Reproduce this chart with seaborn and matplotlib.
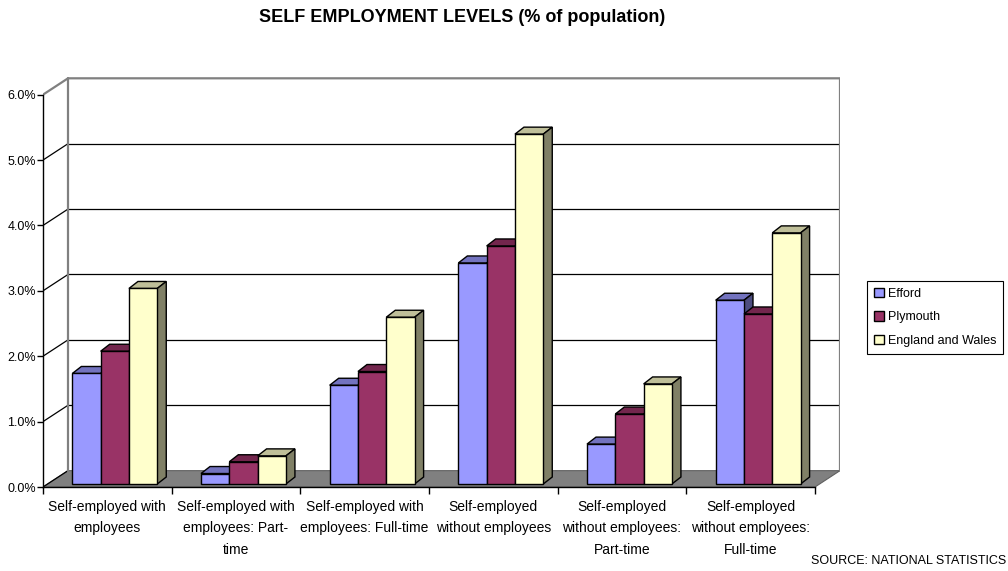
import numpy as np
import pandas as pd
import matplotlib
matplotlib.use("Agg")
import matplotlib.pyplot as plt
from matplotlib.patches import Polygon, Patch
import seaborn as sns

# ---- data -------------------------------------------------------------
categories = [
    "Self-employed with employees",
    "Self-employed with employees: Part-time",
    "Self-employed with employees: Full-time",
    "Self-employed without employees",
    "Self-employed without employees: Part-time",
    "Self-employed without employees: Full-time",
]
tick_labels = [
    "Self-employed with\nemployees",
    "Self-employed with\nemployees: Part-\ntime",
    "Self-employed with\nemployees: Full-time",
    "Self-employed\nwithout employees",
    "Self-employed\nwithout employees:\nPart-time",
    "Self-employed\nwithout employees:\nFull-time",
]
series = ["Efford", "Plymouth", "England and Wales"]
efford = [1.69, 0.16, 1.51, 3.38, 0.61, 2.81]
plymouth = [2.03, 0.34, 1.72, 3.64, 1.07, 2.60]
england_wales = [2.99, 0.43, 2.55, 5.35, 1.53, 3.84]
y_ticks = [0, 1, 2, 3, 4, 5, 6]

front_colors = ["#9999FF", "#993366", "#FFFFCC"]
top_colors = ["#7373BF", "#73264D", "#BFBF99"]
side_colors = ["#4D4D80", "#4D1A33", "#808066"]

df = pd.DataFrame({
    "category": categories * 3,
    "series": np.repeat(series, len(categories)),
    "value": efford + plymouth + england_wales,
})

# ---- figure / axes ----------------------------------------------------
sns.set_style("white")
plt.rcParams["font.family"] = ["Liberation Sans", "DejaVu Sans"]
plt.rcParams["text.color"] = "black"
plt.rcParams["xtick.color"] = "black"
plt.rcParams["ytick.color"] = "black"
plt.rcParams["axes.labelcolor"] = "black"

W, H = 1008, 571
fig = plt.figure(figsize=(W / 100, H / 100), dpi=100)
ax = fig.add_axes([43 / W, (H - 487) / H, 797 / W, 410 / H])
ax.set_facecolor("none")

DX = 0.1943          # depth offset of the back wall (category units)
DY = 0.25            # depth offset of the back wall (percent units)
XMIN, XMAX = -0.5, len(categories) - 0.5

sns.barplot(data=df, x="category", y="value", hue="series",
            order=categories, hue_order=series, palette=front_colors,
            saturation=1, width=0.66, errorbar=None, legend=False,
            edgecolor="black", linewidth=1.0, ax=ax)

ax.set_xlim(XMIN, XMAX + DX)
ax.set_ylim(0, 6.27)

# floor
ax.add_patch(Polygon([(XMIN, 0), (XMAX, 0), (XMAX + DX, DY), (XMIN + DX, DY)],
                     closed=True, facecolor="#808080", edgecolor="#606060",
                     linewidth=0.8, zorder=1))
# back wall gridlines and side-wall diagonals
for v in y_ticks[1:-1]:
    ax.plot([XMIN + DX, XMAX + DX], [v + DY, v + DY], color="black", lw=0.9, zorder=1.5)
for v in y_ticks[:-1]:
    ax.plot([XMIN, XMIN + DX], [v, v + DY], color="black", lw=0.9, zorder=1.5)
# wall border
ax.plot([XMIN, XMIN + DX, XMAX + DX, XMAX + DX],
        [6, 6 + DY, 6 + DY, DY], color="#808080", lw=1.6, zorder=1.6)
ax.plot([XMIN + DX, XMIN + DX], [DY, 6 + DY], color="#808080", lw=1.6, zorder=1.6)

# 3D faces of the bars
SHIFT_X, SHIFT_Y = 0.058, 0.046
BDX, BDY = 0.07, 0.107
for i, cont in enumerate(ax.containers):
    for bar in cont:
        bar.set_x(bar.get_x() + SHIFT_X)
        bar.set_y(SHIFT_Y)
        bar.set_zorder(10 + 2 * i + 1)
        x0 = bar.get_x()
        x1 = x0 + bar.get_width()
        y0 = bar.get_y()
        y1 = y0 + bar.get_height()
        top = Polygon([(x0, y1), (x0 + BDX, y1 + BDY), (x1 + BDX, y1 + BDY), (x1, y1)],
                      closed=True, facecolor=top_colors[i], edgecolor="black",
                      linewidth=1.0, zorder=10 + 2 * i)
        side = Polygon([(x1, y0), (x1 + BDX, y0 + BDY), (x1 + BDX, y1 + BDY), (x1, y1)],
                       closed=True, facecolor=side_colors[i], edgecolor="black",
                       linewidth=1.0, zorder=10 + 2 * i)
        ax.add_patch(top)
        ax.add_patch(side)

# axes, ticks, labels
for s in ["top", "right"]:
    ax.spines[s].set_visible(False)
ax.spines["left"].set_bounds(0, 6)
ax.spines["bottom"].set_bounds(XMIN, XMAX)
for s in ["left", "bottom"]:
    ax.spines[s].set_color("black")
    ax.spines[s].set_linewidth(1.0)
    ax.spines[s].set_zorder(5)

ax.set_yticks(y_ticks)
ax.set_yticklabels([f"{v:.1f}%" for v in y_ticks])
ax.tick_params(axis="y", which="major", direction="out", length=4, width=1,
               color="black", labelcolor="black", labelsize=9, pad=1, left=True)

ax.set_xticks(np.arange(XMIN, XMAX + 0.01, 1.0))
ax.set_xticklabels([])
ax.set_xticks(range(len(categories)), minor=True)
ax.set_xticklabels(tick_labels, minor=True, fontsize=10, linespacing=1.7)
ax.tick_params(axis="x", which="major", direction="out", length=5, width=1,
               color="black", bottom=True)
ax.tick_params(axis="x", which="minor", length=0, pad=9, bottom=True,
               labelcolor="black")
ax.set_xlabel("")
ax.set_ylabel("")
ax.grid(False)

# title and source
fig.text(462 / W, 1 - 18 / H, "SELF EMPLOYMENT LEVELS (% of population)",
         ha="center", va="center", fontsize=13, fontweight="bold", color="black")
fig.text(1006 / W, 1 - 561 / H, "SOURCE: NATIONAL STATISTICS",
         ha="right", va="center", fontsize=9, color="black")

# legend
handles = [Patch(facecolor=c, edgecolor="black", linewidth=1.0) for c in front_colors]
leg = fig.legend(handles, series, loc="upper left",
                 bbox_to_anchor=(867 / W, 1 - 281 / H), frameon=True, fancybox=False,
                 edgecolor="black", framealpha=1, fontsize=9, handlelength=0.8,
                 handleheight=0.8, handletextpad=0.3, labelspacing=0.9,
                 borderpad=0.55, borderaxespad=0)
leg.get_frame().set_linewidth(0.8)
for t in leg.get_texts():
    t.set_color("black")

fig.savefig("out.png", dpi=100)
